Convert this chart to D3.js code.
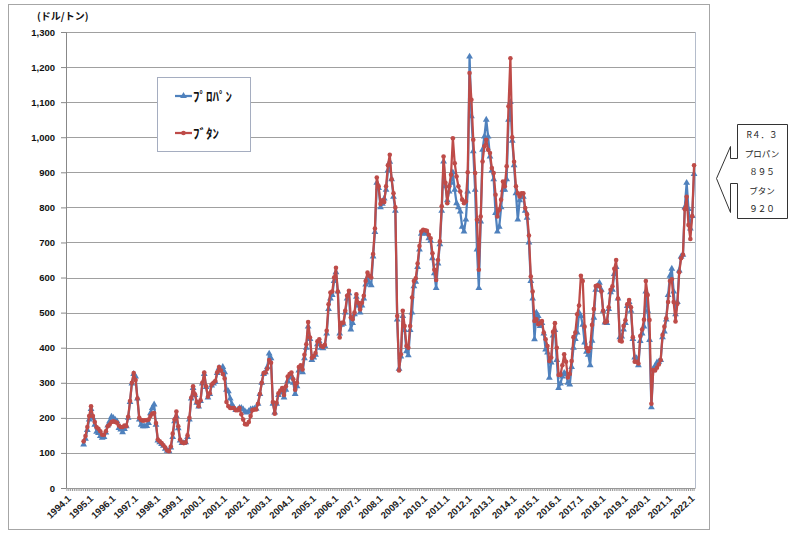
<!DOCTYPE html>
<html><head><meta charset="utf-8">
<script src="https://cdn.jsdelivr.net/npm/d3@7"></script>
<style>
body{margin:0;background:#fff;}
svg{display:block;}
text{font-family:"Liberation Sans","Noto Sans CJK JP",sans-serif;}
.jp{font-family:"Noto Sans CJK JP",sans-serif;}
</style></head><body>
<svg id="chart" width="799" height="537"></svg>
<script>
// ---------- DATA ----------
const axisStart = [1994, 1], axisEnd = [2022, 3];   // category axis range (monthly)
const dataStart = "1994.10";                        // first month with data
const yTicks = [0,100,200,300,400,500,600,700,800,900,1000,1100,1200,1300];
const xTickLabels = ["1994.1","1995.1","1996.1","1997.1","1998.1","1999.1","2000.1","2001.1","2002.1","2003.1","2004.1","2005.1","2006.1","2007.1","2008.1","2009.1","2010.1","2011.1","2012.1","2013.1","2014.1","2015.1","2016.1","2017.1","2018.1","2019.1","2020.1","2021.1","2022.1"];
const seriesNames = ["ﾌﾟﾛﾊﾟﾝ","ﾌﾞﾀﾝ"];
const unitLabel = "(ドル/トン)";
const calloutLines = ["R４．３","プロパン","８９５","ブタン","９２０"];

// プロパン (propane) $/t, 1994.10 - 2022.3
const propane = [
  124,140,165,
  195,225,200,180,160,157,148,143,145,158,178,190,
  203,200,195,190,171,167,159,168,176,200,245,298,
  325,318,255,195,180,176,176,177,185,213,228,238,
  180,135,130,125,120,112,106,105,115,145,190,205,
  170,135,128,128,130,145,195,255,285,265,243,232,
  248,298,325,288,258,268,292,298,302,328,342,335,
  345,330,280,276,255,238,228,222,222,228,228,224,
  218,215,219,224,225,226,226,240,268,300,325,330,
  345,383,370,240,215,240,265,272,280,258,280,305,
  315,320,300,268,290,335,340,330,370,400,460,425,
  365,372,380,410,418,400,398,405,440,510,540,550,
  590,615,560,440,465,468,500,540,555,452,470,495,
  545,520,500,520,540,580,600,585,578,660,730,870,
  855,800,810,825,850,905,930,880,830,790,480,340,
  375,490,450,390,378,450,500,575,588,630,680,725,
  728,728,725,712,705,655,612,570,640,695,790,931,
  860,820,845,870,900,850,812,800,788,745,731,765,
  845,1230,1060,960,850,680,570,760,964,1002,1050,1002,
  945,905,880,784,731,745,800,850,850,880,1050,1100,
  990,920,840,765,820,830,830,790,770,700,590,540,
  424,500,490,462,470,440,395,386,314,358,435,450,
  365,285,298,318,328,325,300,295,345,400,425,443,
  500,490,465,415,388,380,350,420,485,565,575,585,
  565,505,472,470,510,558,565,610,630,540,430,432,
  452,470,519,530,505,425,372,370,350,419,440,460,
  560,505,422,230,340,348,358,360,365,430,446,480,
  550,605,625,560,495,530,620,660,665,800,870,795,
  740,775,895
];
// ブタン (butane) $/t, 1994.10 - 2022.3
const butane = [
  133,148,174,
  205,233,205,188,173,169,162,152,152,162,176,181,
  188,190,188,186,178,174,174,178,176,203,248,300,
  328,308,255,200,194,192,193,193,195,205,212,214,
  185,138,133,128,122,115,107,105,118,155,195,218,
  176,138,130,128,130,150,200,257,290,267,245,233,
  250,300,329,290,260,270,295,300,305,330,345,335,
  325,312,245,233,228,228,228,222,222,228,210,195,
  182,181,188,205,222,224,224,240,268,300,328,329,
  340,365,357,245,212,243,270,278,285,265,290,318,
  325,329,310,280,300,345,350,338,380,410,473,429,
  371,376,385,418,424,405,402,408,448,524,557,560,
  600,628,560,429,471,471,505,548,562,486,481,500,
  552,528,509,528,548,590,614,605,600,667,740,885,
  860,810,820,815,860,920,950,880,840,800,490,335,
  381,505,462,405,400,462,543,590,598,640,690,731,
  736,735,733,722,712,669,622,593,650,703,803,945,
  870,812,860,893,997,926,888,860,845,822,812,817,
  900,1183,1107,993,898,765,622,774,931,974,993,964,
  955,912,898,836,774,793,822,874,860,917,1088,1225,
  1000,930,860,840,831,840,840,798,780,720,603,560,
  476,481,467,470,476,443,424,405,362,372,445,470,
  400,322,323,350,381,360,315,325,362,430,443,495,
  520,605,590,460,400,390,400,465,510,576,578,575,
  560,505,472,475,515,565,575,625,650,540,420,418,
  462,478,524,536,515,430,360,360,355,433,452,480,
  590,550,479,240,336,335,343,352,365,436,460,484,
  530,590,595,530,475,525,615,655,665,795,830,750,
  710,775,920
];

// ---------- CATEGORIES ----------
const categories = [];
for (let yy = axisStart[0]; yy <= axisEnd[0]; yy++) {
  const mEnd = yy === axisEnd[0] ? axisEnd[1] : 12;
  for (let mm = (yy === axisStart[0] ? axisStart[1] : 1); mm <= mEnd; mm++) categories.push(yy + "." + mm);
}
const dataMonths = categories.slice(categories.indexOf(dataStart));
const series = [
  {name: seriesNames[0], color: "#4F81BD", shape: "tri", values: propane.map((v,i)=>({m: dataMonths[i], v}))},
  {name: seriesNames[1], color: "#BE4B48", shape: "circ", values: butane.map((v,i)=>({m: dataMonths[i], v}))}
];

// ---------- LAYOUT ----------
const svg = d3.select("#chart");
const P = {l: 66, r: 695, t: 32, b: 488};
const x = d3.scaleBand().domain(categories).range([P.l, P.r]);
const y = d3.scaleLinear().domain([0, 1300]).range([P.b, P.t]);
const cx = c => x(c) + x.bandwidth() / 2;

// outer chart frame
svg.append("rect").attr("x", 8.5).attr("y", 4.5).attr("width", 701).attr("height", 525)
  .attr("fill", "#fff").attr("stroke", "#a6a6a6");

// gridlines
svg.append("g").selectAll("line").data(yTicks.filter(d => d > 0)).join("line")
  .attr("x1", P.l).attr("x2", P.r)
  .attr("y1", d => Math.round(y(d)) + 0.5).attr("y2", d => Math.round(y(d)) + 0.5)
  .attr("stroke", "#a0a0a0").attr("stroke-width", 1);

// plot border (right side)
svg.append("line").attr("x1", P.r + 0.5).attr("x2", P.r + 0.5).attr("y1", P.t).attr("y2", P.b)
  .attr("stroke", "#b4bccb");

// y axis
const yAx = svg.append("g").attr("transform", `translate(${P.l},0)`)
  .call(d3.axisLeft(y).tickValues(yTicks).tickFormat(d3.format(",")).tickSize(5).tickPadding(6));
yAx.selectAll("path,line").attr("stroke", "#888");
yAx.selectAll("text").attr("font-size", 9.5).attr("font-weight", "bold").attr("fill", "#111")
  .style("font-family", "'Liberation Sans',sans-serif");

// x axis (monthly ticks)
const xAx = svg.append("g").attr("transform", `translate(0,${P.b})`)
  .call(d3.axisBottom(x).tickValues(categories).tickFormat("").tickSize(3).tickSizeOuter(0));
xAx.selectAll("path,line").attr("stroke", "#999");

// x tick labels (rotated)
svg.append("g").selectAll("text").data(xTickLabels).join("text")
  .attr("transform", d => `translate(${cx(d) + 2.5},${P.b + 9}) rotate(-43)`)
  .attr("text-anchor", "end").attr("dy", "0.35em")
  .attr("font-size", 9.5).attr("font-weight", "bold").attr("fill", "#222")
  .text(d => d);

// unit label
svg.append("text").attr("class", "jp").attr("x", 37).attr("y", 19.5)
  .attr("font-size", 10).attr("font-weight", "bold").attr("fill", "#111").text(unitLabel);

// series
const line = d3.line().x(d => cx(d.m)).y(d => y(d.v));
const tri = d3.symbol().type(d3.symbolTriangle).size(20);
series.forEach(s => {
  const g = svg.append("g");
  g.append("path").datum(s.values).attr("d", line).attr("fill", "none")
    .attr("stroke", s.color).attr("stroke-width", 2.25).attr("stroke-linejoin", "round");
  if (s.shape === "tri") {
    g.selectAll("path.mk").data(s.values).join("path").attr("class", "mk")
      .attr("transform", d => `translate(${cx(d.m)},${y(d.v)})`).attr("d", tri).attr("fill", s.color);
  } else {
    g.selectAll("circle").data(s.values).join("circle")
      .attr("cx", d => cx(d.m)).attr("cy", d => y(d.v)).attr("r", 2.3).attr("fill", s.color);
  }
});

// legend
const lg = svg.append("g");
lg.append("rect").attr("x", 157.5).attr("y", 77.5).attr("width", 93).attr("height", 74)
  .attr("fill", "#fff").attr("stroke", "#a5adc0");
series.forEach((s, i) => {
  const ly = 96 + i * 37;
  lg.append("line").attr("x1", 175).attr("x2", 192).attr("y1", ly).attr("y2", ly)
    .attr("stroke", s.color).attr("stroke-width", 2.25);
  if (s.shape === "tri") lg.append("path").attr("transform", `translate(183.5,${ly})`).attr("d", tri).attr("fill", s.color);
  else lg.append("circle").attr("cx", 183.5).attr("cy", ly).attr("r", 2.3).attr("fill", s.color);
  lg.append("text").attr("class", "jp").attr("x", 193).attr("y", ly).attr("dy", "0.36em")
    .attr("font-size", 13).attr("font-weight", "bold").attr("fill", "#111").text(s.name);
});

// callout (left arrow)
const co = svg.append("g");
co.append("path")
  .attr("d", "M737.5,124.5 H787.5 V218.5 H737.5 V183.5 H730.5 V212.5 L716.5,178.5 L730.5,146.5 V158.5 H737.5 Z")
  .attr("fill", "#fff").attr("stroke", "#333").attr("stroke-width", 1);
co.selectAll("text").data(calloutLines).join("text").attr("class", "jp")
  .attr("x", 762).attr("y", (d, i) => 135 + i * 18.6).attr("dy", "0.36em")
  .attr("text-anchor", "middle").attr("font-size", 8.5).attr("fill", "#222").text(d => d);
</script>
</body></html>
